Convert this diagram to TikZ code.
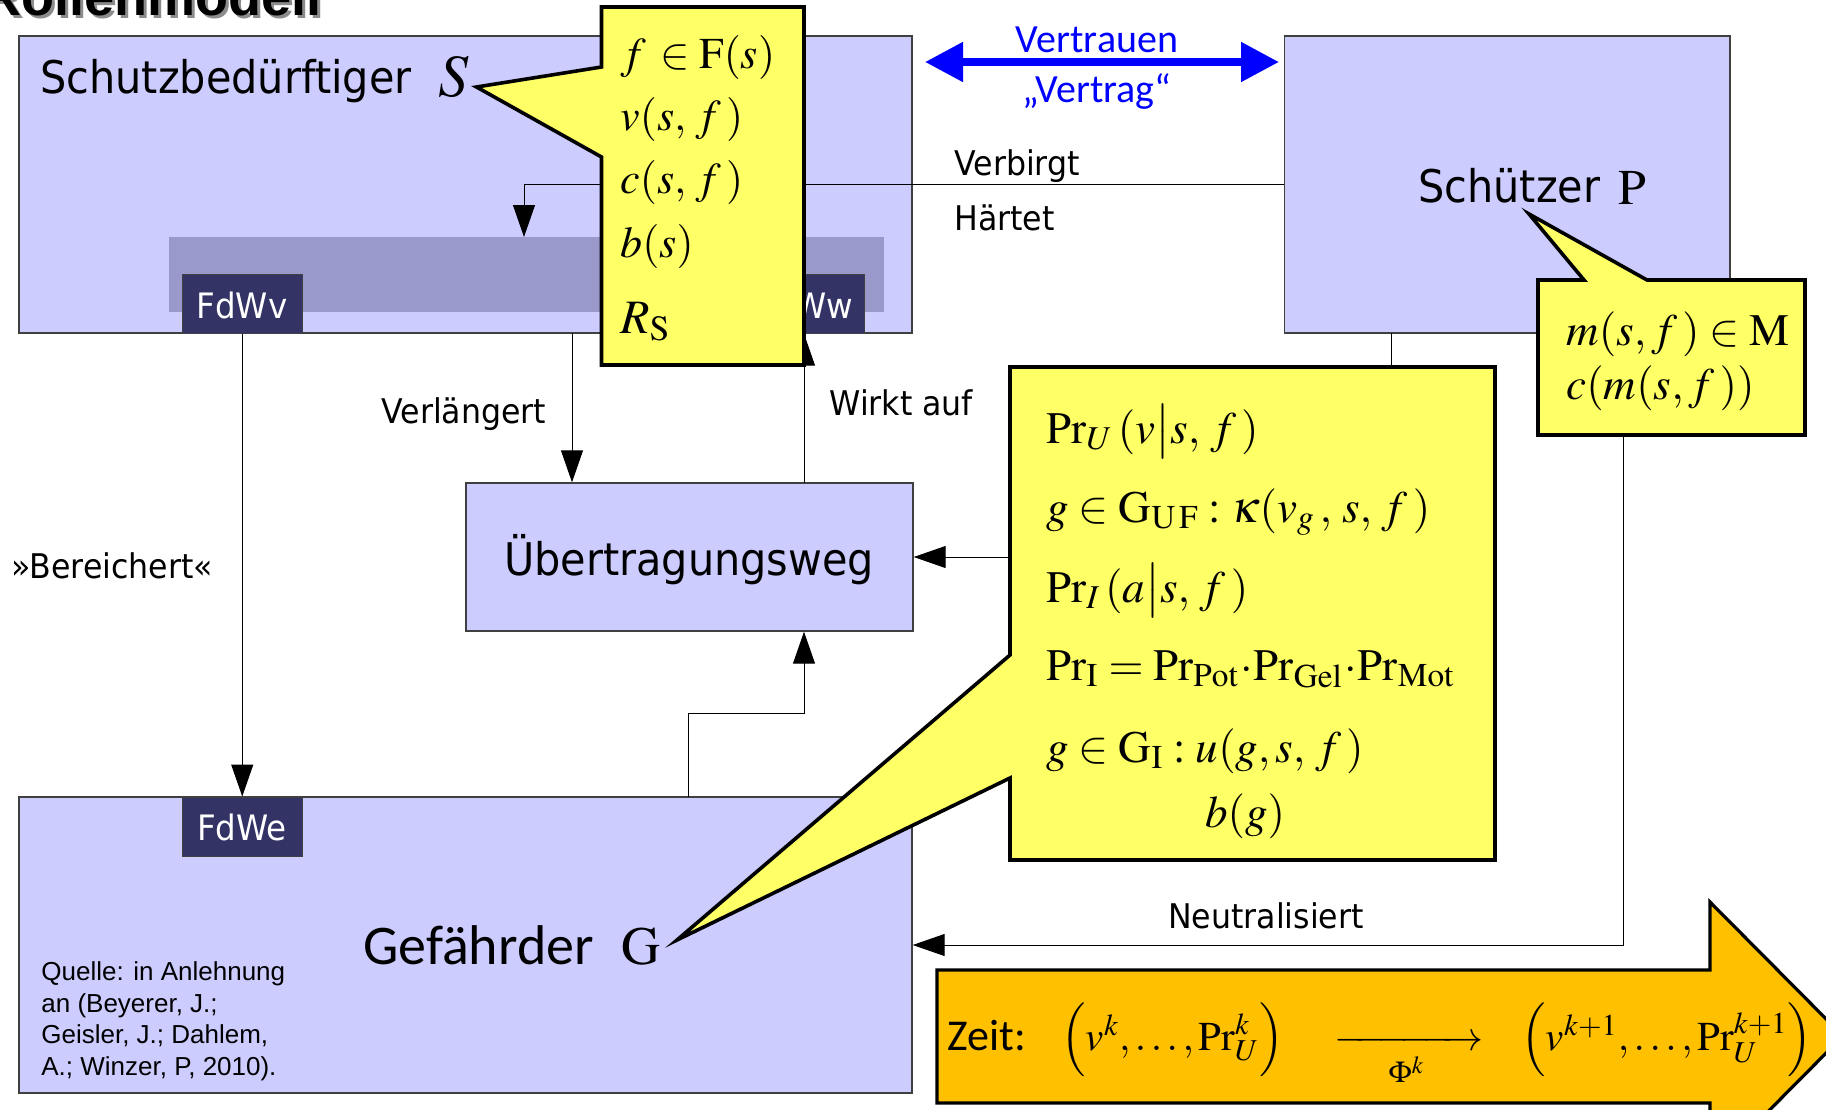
\documentclass[tikz,border=0pt]{standalone}
\usepackage{amsmath}
\usepackage{mathptmx}
\usepackage[no-math]{fontspec}
\usetikzlibrary{arrows.meta,fit}
\newfontfamily\dv[FakeStretch=0.93]{DejaVu Sans}
\newfontfamily\dvb[FakeStretch=0.92]{DejaVu Sans}
\newfontfamily\carl{Carlito}
\newfontfamily\lib{Liberation Sans}
\definecolor{boxc}{HTML}{CCCCFF}
\definecolor{bandc}{HTML}{9999CC}
\definecolor{fdwc}{HTML}{333366}
\definecolor{yelc}{HTML}{FFFF66}
\definecolor{orac}{HTML}{FFC000}
\definecolor{edgec}{HTML}{404040}
\tikzset{
  box/.style={draw=edgec, line width=0.7pt, fill=boxc, inner sep=0pt},
  band/.style={fill=bandc, inner sep=0pt},
  fdw/.style={draw=edgec, line width=0.5pt, fill=fdwc, inner sep=0pt, text=white,
     font=\dv\fontsize{17.5}{20}\selectfont},
  arr/.style={-{Triangle[length=16pt,width=11pt]}, line width=0.5pt},
  plain/.style={line width=0.5pt},
  varr/.style={{Triangle[length=19pt,width=19pt]}-{Triangle[length=19pt,width=19pt]}, line width=4pt, blue},
  callout/.style={draw=black, line width=1.8pt, fill=yelc, line join=miter},
  zeitarrow/.style={draw=black, line width=1.6pt, fill=orac, line join=miter},
  lbl/.style={font=\dv\fontsize{17}{20}\selectfont, inner sep=0pt, anchor=base west},
  biglbl/.style={font=\dvb\fontsize{22.5}{27}\selectfont, inner sep=0pt, anchor=base west},
  mthS/.style={font=\fontsize{22}{26}\selectfont, inner sep=0pt, anchor=base west},
  mthB/.style={font=\fontsize{22.5}{27}\selectfont, inner sep=0pt, anchor=base west},
  mthZ/.style={font=\fontsize{20.5}{24}\selectfont, inner sep=0pt, anchor=base west},
  quelle/.style={font=\lib\fontsize{13}{15}\selectfont, inner sep=0pt, anchor=base west},
  blu/.style={font=\carl\fontsize{20}{24}\selectfont, inner sep=0pt, anchor=base, text=blue},
}
\begin{document}
\begin{tikzpicture}[x=0.5pt,y=-0.5pt]
\useasboundingbox (0,0) rectangle (1826,1109);
% title
\node[anchor=base west, inner sep=0pt, font=\lib\bfseries\fontsize{27}{30}\selectfont, text=black!45] (titleshadow) at (-15,18) {Rollenmodell};
\node[anchor=base west, inner sep=0pt, font=\lib\bfseries\fontsize{27}{30}\selectfont] (title) at (-18,15) {Rollenmodell};

% boxes
\node[box, fit={(19,36)(912,333)}] (S) {};
\node[band, fit={(169,237)(884,312)}] (band) {};
\node[fdw, fit={(182.5,274)(302,333)}] (FdWv) {};
\node[fdw, fit={(744,274)(864,333)}] (FdWw) {};
\node[box, fit={(1284.5,36)(1730,333)}] (P) {};
\node[box, fit={(466,483)(913,631)}] (U) {};
\node[box, fit={(19,797)(912,1093)}] (G) {};
\node[fdw, fit={(182.5,797)(302,856)}] (FdWe) {};

\node[fdw, draw=none, fill=none, anchor=base] (FdWvT) at (242,318) {FdWv};
\node[fdw, draw=none, fill=none, anchor=base] (FdWwT) at (804,318) {FdWw};
\node[fdw, draw=none, fill=none, anchor=base] (FdWeT) at (242,840) {FdWe};

% named coordinates for connectors
\coordinate (bandT) at (524,237);
\coordinate (vl) at (572,333);
\coordinate (wa) at (804,483);
\coordinate (gu) at (688,797);
\coordinate (c2l) at (1010,557);
\coordinate (pb) at (1391,333);
\coordinate (c2t) at (1391,367);
\coordinate (cpb) at (1623,435);
\coordinate (v1) at (925,62);
\coordinate (v2) at (1279,62);

% connectors
\draw[arr] (P.west) -| (bandT);
\draw[arr] (FdWv.south) -- (FdWe.north);
\draw[arr] (vl) -- (vl |- U.north);
\draw[arr] (wa) -- (wa |- S.south);
\draw[arr] (gu) -- ++(0,-84) -| (U.south -| wa);
\draw[arr] (c2l) -- (U.east);
\draw[plain] (pb) -- (c2t);
\draw[arr] (cpb) |- (G.east);
\draw[varr] (v1) -- (v2);

% callouts
\draw[callout] (601.5,7) -- (804,7) -- (804,365) -- (601.5,365) -- (601.5,157) -- (476.5,87) -- (601.5,67) -- cycle;
\draw[callout] (1538,280) -- (1584,280) -- (1529,214) -- (1647,280) -- (1805,280) -- (1805,435) -- (1538,435) -- cycle;
\draw[callout] (1010,367) -- (1495,367) -- (1495,860) -- (1010,860) -- (1010,778) -- (677,940) -- (1010,655) -- cycle;

% Zeit arrow
\draw[zeitarrow] (937,970) -- (1710,970) -- (1710,902) -- (1843,1036) -- (1710,1170) -- (1710,1103) -- (937,1103) -- cycle;

% box texts
\node[biglbl] (Stxt) at (40,93) {Schutzbedürftiger};
\node[inner sep=0pt, anchor=base west, font=\fontsize{30}{36}\selectfont] (Ssym) at (438,96) {$S$};
\node[biglbl] (Ptxt) at (1418,202) {Schützer};
\node[inner sep=0pt, anchor=base west, font=\fontsize{25}{30}\selectfont] (Psym) at (1618,204) {$\mathrm{P}$};
\node[biglbl, anchor=base] (Utxt) at (689,575) {Übertragungsweg};
\node[inner sep=0pt, anchor=base west, font=\carl\fontsize{28}{34}\selectfont] (Gtxt) at (363,964) {Gefährder};
\node[inner sep=0pt, anchor=base west, font=\fontsize{27}{32}\selectfont] (Gsym) at (621,964) {$\mathrm{G}$};

% labels
\node[lbl] (verbirgt) at (954,175) {Verbirgt};
\node[lbl] (haertet) at (954,230) {Härtet};
\node[lbl] (verl) at (381,423) {Verlängert};
\node[lbl] (wirkt) at (829,415) {Wirkt auf};
\node[lbl] (bereich) at (11,578) {»Bereichert«};
\node[lbl, anchor=base] (neutr) at (1266,928) {Neutralisiert};
\node[blu] (vertrauen) at (1097,52) {Vertrauen};
\node[blu] (vertrag) at (1097,102) {„Vertrag“};

% Quelle
\node[quelle] (q1) at (41,980) {Quelle: in Anlehnung};
\node[quelle] (q2) at (41,1012) {an (Beyerer, J.;};
\node[quelle] (q3) at (41,1043) {Geisler, J.; Dahlem,};
\node[quelle] (q4) at (41,1075) {A.; Winzer, P, 2010).};

% callout S math
\node[mthS] (s1) at (620,68) {$f \,\in \mathrm{F}(s)$};
\node[mthS] (s2) at (620,130) {$v(s,\, f\,)$};
\node[mthS] (s3) at (620,193) {$c(s,\, f\,)$};
\node[mthS] (s4) at (620,257) {$b(s)$};
\node[mthS, font=\fontsize{24}{28}\selectfont] (s5) at (620,333) {$R_{\mathrm{S}}$};

% callout P math
\node[mthB] (p1) at (1566,345) {$m(s, f\,) \in \mathrm{M}$};
\node[mthB] (p2) at (1566,399) {$c(m(s, f\,))$};

% big callout math
\node[mthB] (b1) at (1046,443) {$\mathrm{Pr}_U\,(v\big|s,\, f\,)$};
\node[mthB] (b2) at (1046,522) {$g \in \mathrm{G}_{\mathrm{U\,F}} : \kappa(v_g\,,\, s,\, f\,)$};
\node[mthB] (b3) at (1046,602) {$\mathrm{Pr}_I\,(a\big|s,\, f\,)$};
\node[mthB] (b4) at (1046,680) {$\mathrm{Pr}_{\mathrm{I}} = \mathrm{Pr}_{\mathrm{Pot}}\!\cdot\!\mathrm{Pr}_{\mathrm{Gel}}\!\cdot\!\mathrm{Pr}_{\mathrm{Mot}}$};
\node[mthB] (b5) at (1046,762) {$g \in \mathrm{G}_{\mathrm{I}} : u(g, s,\, f\,)$};
\node[mthB, anchor=base] (b6) at (1245,827) {$b(g)$};

% Zeit
\node[inner sep=0pt, anchor=base west, font=\carl\fontsize{22}{26}\selectfont] (zeit) at (947,1050) {Zeit:};
\node[mthZ] (z1) at (1061,1050) {$\Big(v^k,\ldots,\mathrm{Pr}_U^k\Big)$};
\node[mthZ, anchor=base, line width=1pt] (z2) at (1409,1050) {$\xrightarrow[\hspace{1.1em}\Phi^k\hspace{1.1em}]{}$};
\node[mthZ] (z3) at (1521,1050) {$\Big(v^{k+1},\ldots,\mathrm{Pr}_U^{k+1}\Big)$};
\end{tikzpicture}
\end{document}
